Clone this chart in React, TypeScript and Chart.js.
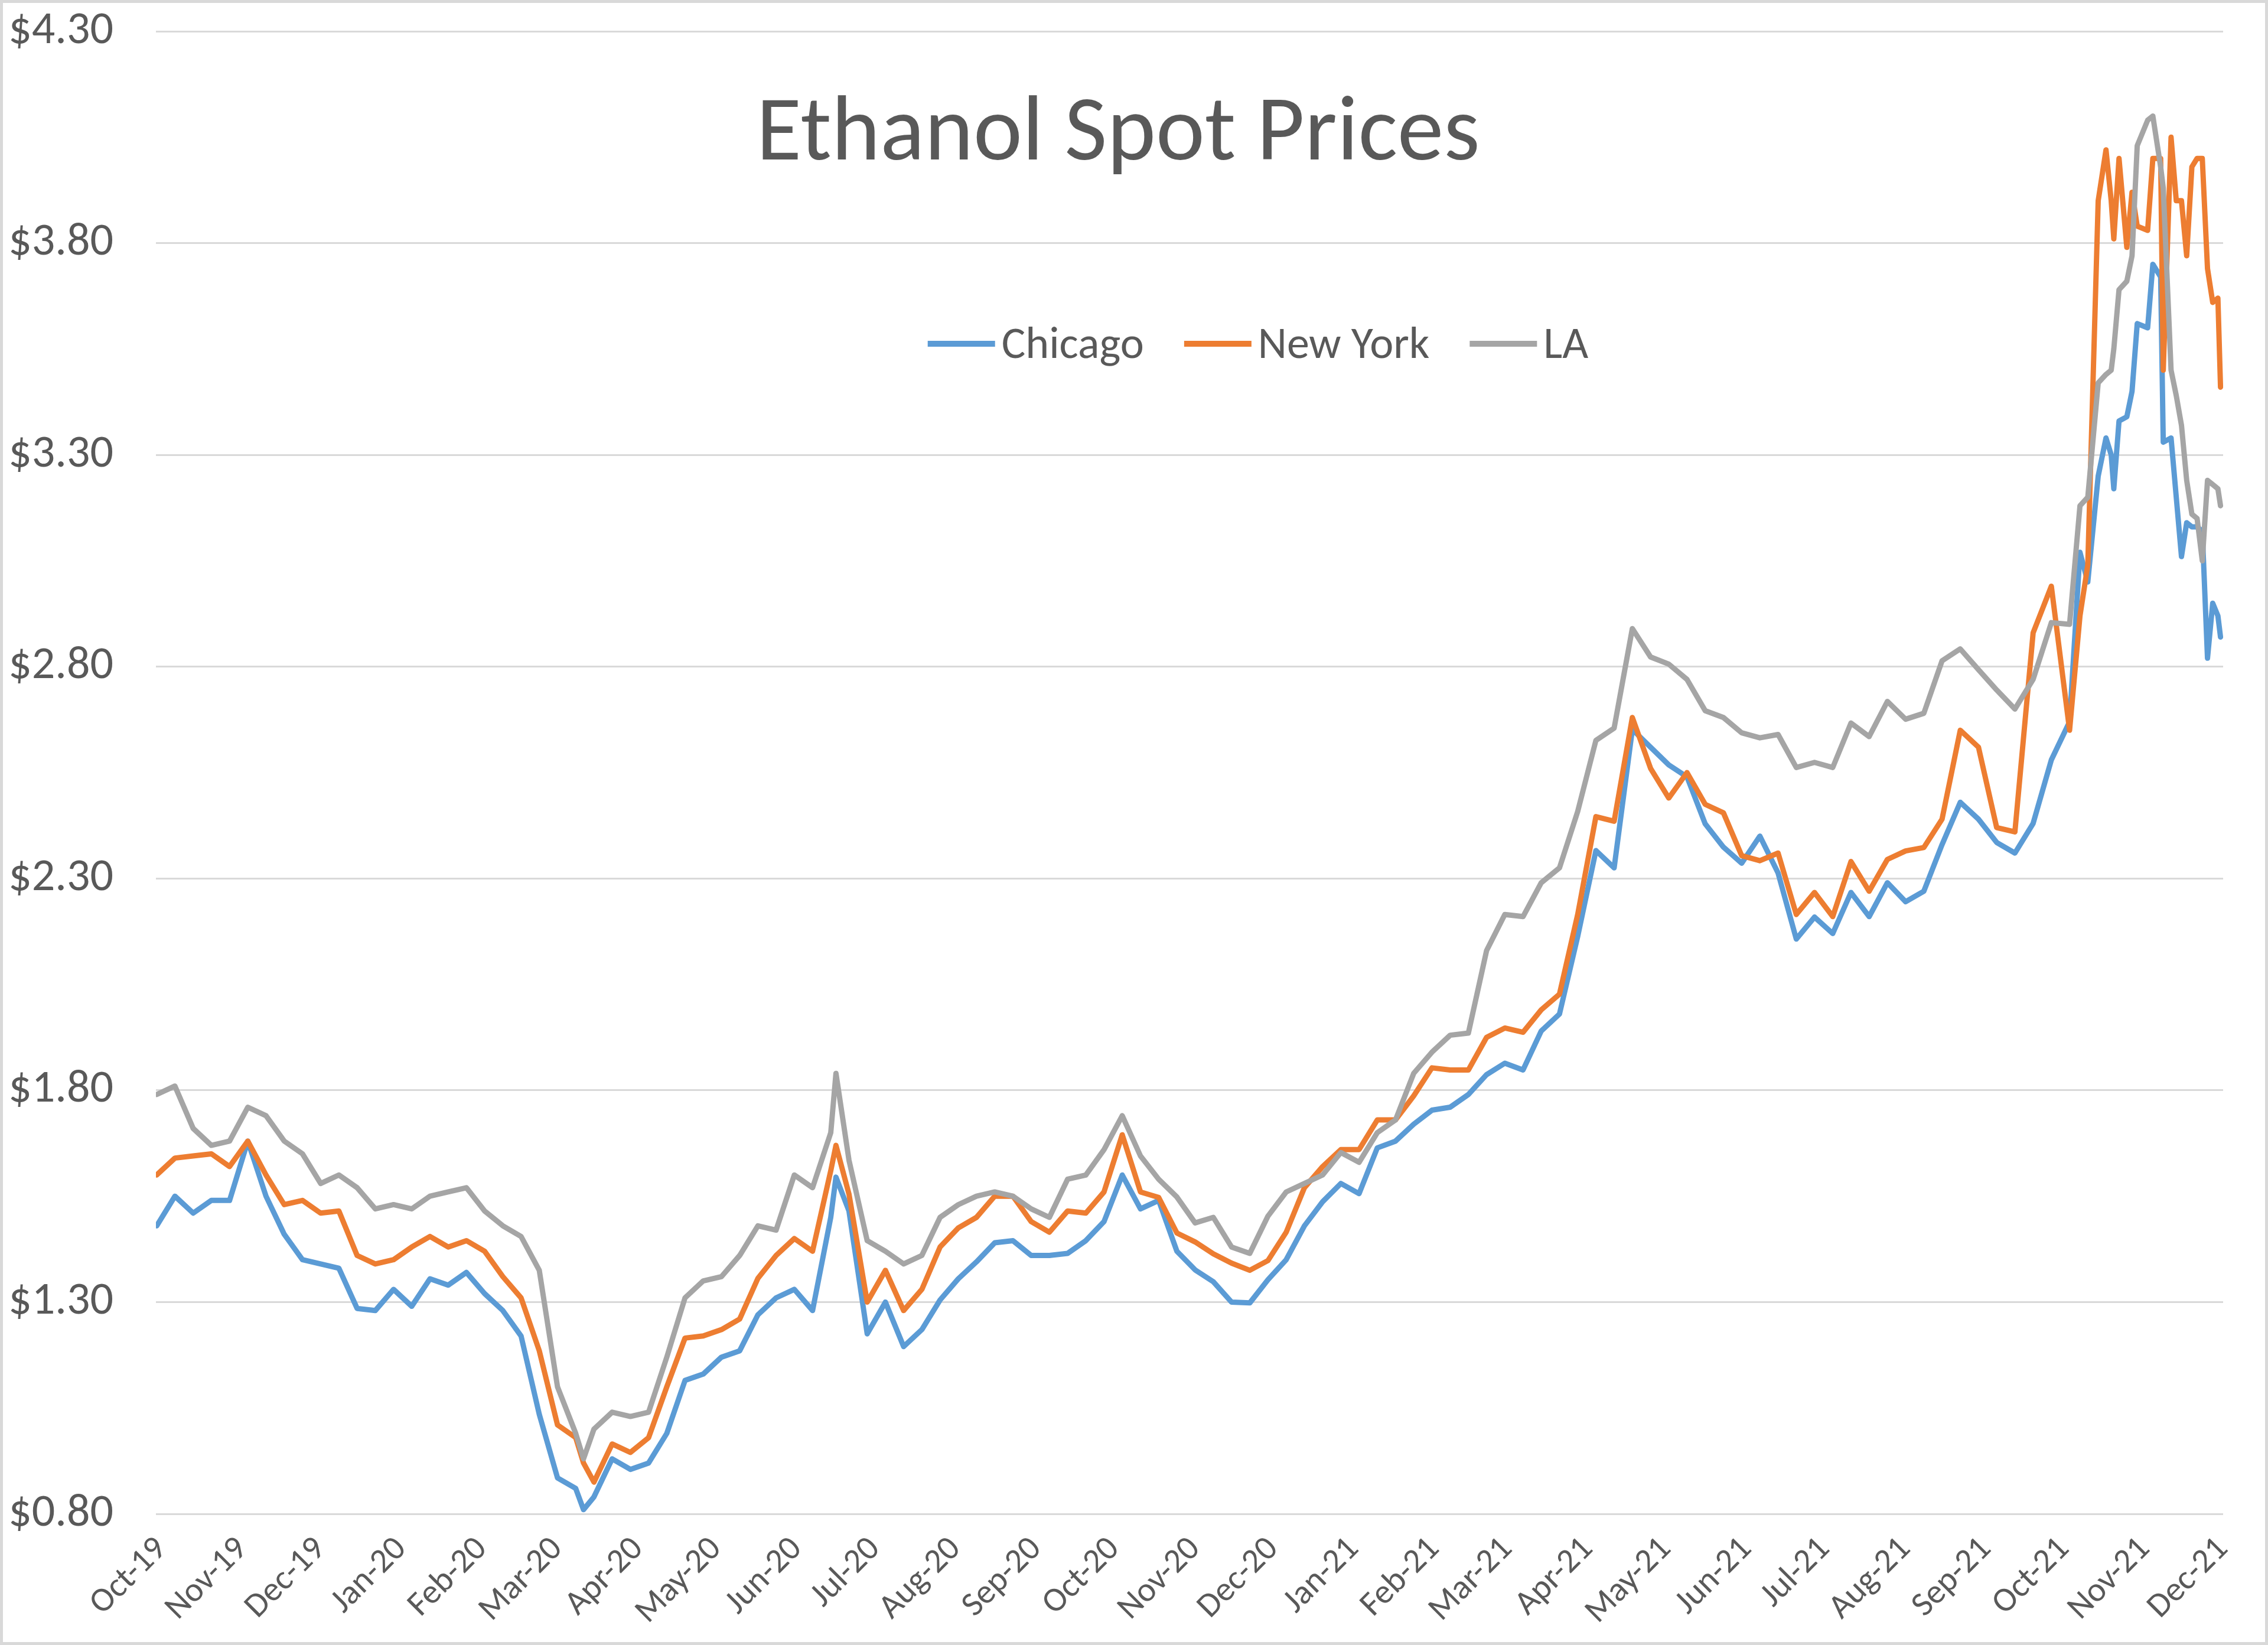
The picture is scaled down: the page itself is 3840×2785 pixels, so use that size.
import React, { useEffect, useRef } from 'react';
import { Chart, registerables } from 'chart.js';

Chart.register(...registerables);

const FONT = 'Carlito, Calibri, Lato, "Open Sans", sans-serif';
const TEXT = '#595959';

const chartTitle = 'Ethanol Spot Prices';
const seriesNames = ['Chicago', 'New York', 'LA'];
const seriesColors = ['#5B9BD5', '#ED7D31', '#A5A5A5'];

const monthLabels = [
  'Oct-19', 'Nov-19', 'Dec-19', 'Jan-20', 'Feb-20', 'Mar-20', 'Apr-20', 'May-20', 'Jun-20',
  'Jul-20', 'Aug-20', 'Sep-20', 'Oct-20', 'Nov-20', 'Dec-20', 'Jan-21', 'Feb-21', 'Mar-21',
  'Apr-21', 'May-21', 'Jun-21', 'Jul-21', 'Aug-21', 'Sep-21', 'Oct-21', 'Nov-21', 'Dec-21',
];

const yTickValues = [0.8, 1.3, 1.8, 2.3, 2.8, 3.3, 3.8, 4.3];

// observation dates, in days after 1 Oct 2019
const dayOffsets = [
  -2, 5, 12, 19, 26, 33, 40, 47, 54, 61,
  68, 75, 82, 89, 96, 103, 110, 117, 124, 131,
  138, 145, 152, 159,
  162,
  166, 173, 180, 187, 194, 201,
  208, 215, 222, 229, 236, 243, 250, 257,
  259,
  264, 271, 278, 285, 292, 299, 306, 313, 320, 327, 334, 341,
  348, 355, 362, 369, 376, 383, 390, 397, 404, 411,
  418, 425, 432, 439, 446, 453, 460, 467, 474, 481,
  488, 495, 502, 509, 516, 523, 530, 537, 544, 551,
  558, 565, 572, 579, 586, 593, 600, 607, 614, 621,
  628, 635, 642, 649, 656, 663, 670, 677, 684, 691,
  698, 705, 712, 719, 726, 733,
  737, 740, 744, 747, 749, 750, 752, 755, 757, 759, 763, 765, 768, 769, 772, 774, 776, 778, 780, 782, 784, 786, 788, 790, 791,
];

const chicago = [
  1.48, 1.55, 1.51, 1.54, 1.54, 1.68, 1.55, 1.46, 1.40, 1.39,
  1.38, 1.285, 1.28, 1.33, 1.29, 1.355, 1.34, 1.37, 1.32, 1.28,
  1.22, 1.035, 0.885, 0.86,
  0.81,
  0.84, 0.93, 0.905, 0.92, 0.99, 1.115,
  1.13, 1.17, 1.185, 1.27, 1.31, 1.33, 1.28, 1.50,
  1.595,
  1.515, 1.225, 1.30, 1.195, 1.235, 1.305, 1.355, 1.395, 1.44, 1.445, 1.41, 1.41,
  1.415, 1.445, 1.49, 1.60, 1.52, 1.54, 1.42, 1.376, 1.348, 1.30,
  1.298, 1.353, 1.40, 1.48, 1.537, 1.58, 1.556, 1.664, 1.68, 1.72,
  1.753, 1.76, 1.79, 1.837, 1.864, 1.848, 1.94, 1.98, 2.163, 2.366,
  2.325, 2.652, 2.61, 2.568, 2.54, 2.429, 2.374, 2.336, 2.40, 2.313,
  2.157, 2.209, 2.17, 2.267, 2.21, 2.29, 2.245, 2.27, 2.38, 2.48,
  2.44, 2.385, 2.36, 2.43, 2.58, 2.67,
  3.07, 3.00, 3.25, 3.34, 3.30, 3.22, 3.38, 3.39, 3.45, 3.61, 3.60, 3.75, 3.72, 3.33, 3.34, 3.20, 3.06, 3.14, 3.13, 3.13, 3.12, 2.82, 2.95, 2.92, 2.87,
];

const newYork = [
  1.60, 1.64, 1.645, 1.65, 1.62, 1.68, 1.60, 1.53, 1.54, 1.51,
  1.515, 1.41, 1.39, 1.40, 1.43, 1.455, 1.43, 1.445, 1.42, 1.36,
  1.31, 1.185, 1.01, 0.98,
  0.92,
  0.875, 0.965, 0.945, 0.98, 1.10, 1.215,
  1.22, 1.235, 1.26, 1.356, 1.41, 1.45, 1.42, 1.61,
  1.67,
  1.555, 1.30, 1.375, 1.28, 1.33, 1.43, 1.475, 1.50, 1.55, 1.55, 1.49, 1.465,
  1.515, 1.51, 1.56, 1.695, 1.56, 1.547, 1.463, 1.442, 1.414, 1.392,
  1.375, 1.398, 1.465, 1.57, 1.62, 1.66, 1.66, 1.73, 1.73, 1.787,
  1.853, 1.848, 1.848, 1.925, 1.947, 1.937, 1.99, 2.027, 2.215, 2.446,
  2.435, 2.68, 2.56, 2.49, 2.55, 2.475, 2.455, 2.354, 2.342, 2.36,
  2.215, 2.267, 2.21, 2.34, 2.27, 2.345, 2.365, 2.373, 2.44, 2.65,
  2.61, 2.42, 2.41, 2.88, 2.99, 2.65,
  2.92, 3.04, 3.90, 4.02, 3.90, 3.81, 4.00, 3.79, 3.92, 3.84, 3.83, 4.00, 4.00, 3.50, 4.05, 3.90, 3.90, 3.77, 3.98, 4.00, 4.00, 3.74, 3.66, 3.67, 3.46,
];

const la = [
  1.79, 1.81, 1.71, 1.67, 1.68, 1.76, 1.74, 1.68, 1.65, 1.58,
  1.60, 1.57, 1.52, 1.53, 1.52, 1.55, 1.56, 1.57, 1.515, 1.48,
  1.455, 1.375, 1.10, 0.99,
  0.93,
  1.00, 1.04, 1.03, 1.04, 1.17, 1.31,
  1.35, 1.36, 1.41, 1.48, 1.47, 1.60, 1.57, 1.70,
  1.84,
  1.635, 1.445, 1.42, 1.39, 1.41, 1.50, 1.53, 1.55, 1.56, 1.55, 1.52, 1.50,
  1.59, 1.60, 1.66, 1.74, 1.645, 1.59, 1.548, 1.487, 1.50, 1.43,
  1.415, 1.503, 1.56, 1.58, 1.60, 1.653, 1.63, 1.70, 1.73, 1.84,
  1.89, 1.93, 1.935, 2.13, 2.215, 2.21, 2.29, 2.325, 2.458, 2.626,
  2.655, 2.89, 2.823, 2.806, 2.77, 2.696, 2.68, 2.644, 2.632, 2.64,
  2.562, 2.574, 2.562, 2.667, 2.635, 2.718, 2.676, 2.69, 2.814, 2.842,
  2.793, 2.745, 2.70, 2.77, 2.904, 2.90,
  3.18, 3.20, 3.47, 3.49, 3.50, 3.55, 3.69, 3.71, 3.77, 4.03, 4.09, 4.10, 3.98, 3.93, 3.50, 3.44, 3.37, 3.24, 3.16, 3.15, 3.05, 3.24, 3.23, 3.22, 3.18,
];

const seriesValues = [chicago, newYork, la];

const backgroundPlugin = {
  id: 'bgBorder',
  beforeDraw(chart: any) {
    const { ctx, width, height } = chart;
    ctx.save();
    ctx.fillStyle = '#FFFFFF';
    ctx.fillRect(0, 0, width, height);
    ctx.strokeStyle = '#D9D9D9';
    ctx.lineWidth = 5;
    ctx.strokeRect(2.5, 2.5, width - 5, height - 5);
    ctx.restore();
  },
};

const overlayPlugin = {
  id: 'titleLegend',
  afterDraw(chart: any) {
    const ctx = chart.ctx;
    ctx.save();
    ctx.fillStyle = TEXT;
    ctx.textBaseline = 'alphabetic';
    ctx.textAlign = 'center';
    ctx.font = `157px ${FONT}`;
    ctx.fillText(chartTitle, 1893, 270);

    ctx.font = `76px ${FONT}`;
    ctx.textAlign = 'left';
    const sample = 114;
    const gap = 11;
    const itemGap = 68;
    const widths = seriesNames.map((n) => ctx.measureText(n).width);
    const total = widths.reduce((a, w) => a + sample + gap + w, 0) + itemGap * (seriesNames.length - 1);
    let x = 2130 - total / 2;
    seriesNames.forEach((n, i) => {
      ctx.strokeStyle = seriesColors[i];
      ctx.lineWidth = 10;
      ctx.lineCap = 'butt';
      ctx.beginPath();
      ctx.moveTo(x, 582);
      ctx.lineTo(x + sample, 582);
      ctx.stroke();
      x += sample + gap;
      ctx.fillText(n, x, 606);
      x += widths[i] + itemGap;
    });
    ctx.restore();
  },
};

export default function App() {
  const ref = useRef<HTMLCanvasElement>(null);

  useEffect(() => {
    document.body.style.margin = '0';
    const canvas = ref.current;
    if (!canvas) return;
    const monthDays = monthLabels.map(
      (_, i) => (Date.UTC(2019, 9 + i, 1) - Date.UTC(2019, 9, 1)) / 86400000,
    );
    const datasets = seriesNames.map((name, si) => ({
      label: name,
      data: dayOffsets.map((d, i) => ({ x: d, y: seriesValues[si][i] })),
      borderColor: seriesColors[si],
      backgroundColor: seriesColors[si],
      borderWidth: 9,
      pointRadius: 0,
      tension: 0,
      fill: false,
      borderJoinStyle: 'round' as const,
      borderCapStyle: 'round' as const,
      order: 3 - si,
    }));

    const chart = new Chart(canvas, {
      type: 'line',
      data: { datasets },
      options: {
        responsive: false,
        animation: false,
        devicePixelRatio: 1,
        layout: { padding: { top: 53, right: 76, left: 0, bottom: 0 } },
        plugins: {
          legend: { display: false },
          title: { display: false },
          tooltip: { enabled: false },
        },
        scales: {
          x: {
            type: 'linear',
            min: -2.3,
            max: 792,
            grid: { display: false, drawTicks: false },
            border: { display: false },
            afterBuildTicks: (s: any) => {
              s.ticks = monthDays.map((v) => ({ value: v }));
            },
            afterFit: (s: any) => {
              s.height = 222;
              s.paddingLeft = 0;
              s.paddingRight = 0;
            },
            ticks: {
              autoSkip: false,
              minRotation: 45,
              maxRotation: 45,
              padding: 26,
              color: TEXT,
              font: { family: FONT, size: 58 },
              callback: (_v: any, i: number) => monthLabels[i],
            },
          },
          y: {
            type: 'linear',
            min: 0.8,
            max: 4.3,
            afterBuildTicks: (s: any) => {
              s.ticks = yTickValues.map((v) => ({ value: v }));
            },
            afterFit: (s: any) => {
              s.width = 264;
              s.paddingTop = 0;
              s.paddingBottom = 0;
            },
            grid: { color: '#D9D9D9', lineWidth: 3, drawTicks: false },
            border: { display: false },
            ticks: {
              padding: 72,
              color: TEXT,
              font: { family: FONT, size: 78 },
              callback: (v: any) => '$' + Number(v).toFixed(2),
            },
          },
        },
      } as any,
      plugins: [backgroundPlugin, overlayPlugin],
    });
    return () => chart.destroy();
  }, []);

  return <canvas ref={ref} width={3840} height={2785} style={{ display: 'block' }} />;
}
